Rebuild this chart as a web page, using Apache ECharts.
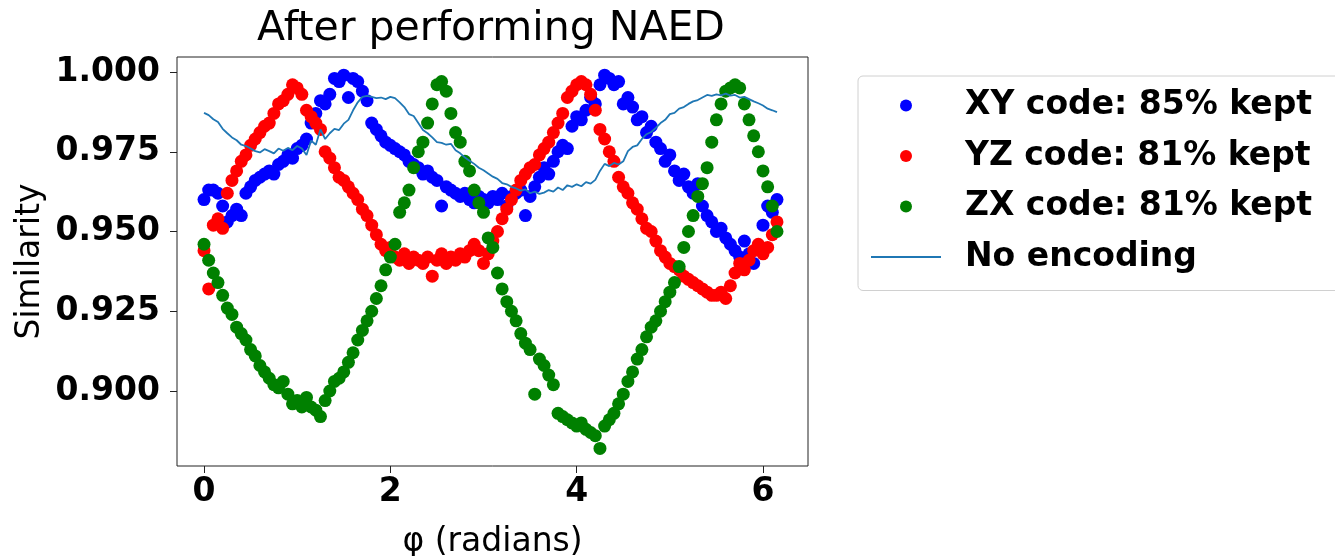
<!DOCTYPE html>
<html><head><meta charset="utf-8">
<script src="https://cdn.jsdelivr.net/npm/echarts@6/dist/echarts.min.js"></script>
<style>html,body{margin:0;padding:0;background:#fff}#c{width:1335px;height:556px}</style>
</head><body><div id="c"></div>
<script>
// sample angles (radians)
const phi = [
0.00,0.05,0.10,0.15,0.20,0.25,0.30,0.35,0.40,0.45,
0.50,0.55,0.60,0.65,0.70,0.75,0.80,0.85,0.90,0.95,
1.00,1.05,1.10,1.15,1.20,1.25,1.30,1.35,1.40,1.45,
1.50,1.55,1.60,1.65,1.70,1.75,1.80,1.85,1.90,1.95,
2.00,2.05,2.10,2.15,2.20,2.25,2.30,2.35,2.40,2.45,
2.50,2.55,2.60,2.65,2.70,2.75,2.80,2.85,2.90,2.95,
3.00,3.05,3.10,3.15,3.20,3.25,3.30,3.35,3.40,3.45,
3.50,3.55,3.60,3.65,3.70,3.75,3.80,3.85,3.90,3.95,
4.00,4.05,4.10,4.15,4.20,4.25,4.30,4.35,4.40,4.45,
4.50,4.55,4.60,4.65,4.70,4.75,4.80,4.85,4.90,4.95,
5.00,5.05,5.10,5.15,5.20,5.25,5.30,5.35,5.40,5.45,
5.50,5.55,5.60,5.65,5.70,5.75,5.80,5.85,5.90,5.95,
6.00,6.05,6.10,6.15];

const xyCode = [
0.960,0.963,0.963,0.962,0.958,0.953,0.955,0.957,0.955,0.962,
0.964,0.966,0.967,0.968,0.969,0.968,0.971,0.972,0.974,0.973,
0.976,0.977,0.979,0.984,0.987,0.991,0.990,0.993,0.998,0.997,
0.999,0.992,0.998,0.997,0.994,0.991,0.984,0.982,0.980,0.978,
0.977,0.976,0.975,0.974,0.972,0.971,0.970,0.968,0.969,0.967,
0.966,0.958,0.964,0.963,0.962,0.961,0.962,0.960,0.959,0.961,
0.960,0.959,0.961,0.960,0.962,0.958,0.961,0.962,0.963,0.955,
0.961,0.964,0.967,0.970,0.968,0.972,0.975,0.977,0.976,0.983,
0.986,0.985,0.988,0.992,0.990,0.996,0.999,0.998,0.996,0.997,
0.990,0.992,0.989,0.985,0.986,0.981,0.983,0.978,0.976,0.972,
0.974,0.969,0.966,0.968,0.964,0.962,0.965,0.958,0.955,0.953,
0.950,0.951,0.948,0.946,0.944,0.942,0.947,0.943,0.940,0.945,
0.952,0.958,0.956,0.960];

const yzCode = [
0.944,0.932,0.952,0.954,0.951,0.962,0.966,0.969,0.972,0.974,
0.977,0.979,0.981,0.983,0.984,0.987,0.990,0.991,0.993,0.996,
0.995,0.993,0.988,0.986,0.984,0.982,0.975,0.973,0.970,0.967,
0.966,0.964,0.962,0.960,0.957,0.955,0.952,0.949,0.946,0.944,
0.945,0.942,0.941,0.943,0.940,0.942,0.941,0.940,0.942,0.936,
0.941,0.943,0.940,0.942,0.941,0.943,0.942,0.944,0.946,0.944,
0.940,0.943,0.947,0.950,0.954,0.957,0.960,0.963,0.966,0.968,
0.970,0.971,0.974,0.976,0.978,0.981,0.984,0.987,0.992,0.994,
0.996,0.997,0.996,0.993,0.988,0.982,0.979,0.975,0.972,0.967,
0.964,0.962,0.959,0.957,0.954,0.951,0.950,0.947,0.944,0.942,
0.940,0.939,0.938,0.936,0.935,0.934,0.933,0.932,0.931,0.930,
0.930,0.931,0.929,0.933,0.937,0.940,0.938,0.941,0.944,0.946,
0.943,0.945,0.949,0.953];

const zxCode = [
0.946,0.941,0.937,0.934,0.930,0.926,0.924,0.920,0.918,0.916,
0.913,0.911,0.908,0.906,0.904,0.902,0.901,0.903,0.899,0.896,
0.897,0.895,0.898,0.895,0.894,0.892,0.897,0.900,0.903,0.904,
0.906,0.909,0.912,0.916,0.919,0.922,0.925,0.929,0.933,0.938,
0.942,0.946,0.956,0.959,0.963,0.970,0.975,0.978,0.984,0.990,
0.996,0.997,0.994,0.987,0.981,0.978,0.972,0.969,0.963,0.959,
0.956,0.948,0.945,0.937,0.932,0.928,0.925,0.922,0.918,0.915,
0.913,0.899,0.910,0.908,0.905,0.902,0.893,0.892,0.891,0.890,
0.889,0.890,0.888,0.887,0.886,0.882,0.889,0.891,0.893,0.896,
0.899,0.903,0.906,0.910,0.913,0.917,0.920,0.922,0.925,0.928,
0.931,0.934,0.939,0.945,0.950,0.955,0.961,0.965,0.970,0.978,
0.985,0.990,0.994,0.995,0.996,0.995,0.990,0.985,0.980,0.975,
0.969,0.964,0.958,0.950];

const noEncoding = [
0.9872,0.9865,0.9852,0.9843,0.9822,0.9808,0.9795,0.9786,0.9772,0.9768,
0.9760,0.9752,0.9748,0.9758,0.9752,0.9745,0.9760,0.9753,0.9762,0.9755,
0.9768,0.9760,0.9740,0.9785,0.9772,0.9820,0.9790,0.9808,0.9822,0.9818,
0.9838,0.9850,0.9880,0.9905,0.9922,0.9925,0.9922,0.9918,0.9920,0.9915,
0.9922,0.9918,0.9905,0.9890,0.9868,0.9862,0.9840,0.9818,0.9808,0.9795,
0.9780,0.9778,0.9772,0.9775,0.9755,0.9745,0.9732,0.9722,0.9712,0.9700,
0.9692,0.9682,0.9672,0.9665,0.9652,0.9648,0.9640,0.9635,0.9628,0.9632,
0.9620,0.9625,0.9618,0.9622,0.9630,0.9625,0.9638,0.9630,0.9645,0.9640,
0.9648,0.9642,0.9655,0.9650,0.9662,0.9690,0.9712,0.9705,0.9715,0.9710,
0.9720,0.9752,0.9765,0.9770,0.9790,0.9805,0.9812,0.9825,0.9840,0.9850,
0.9868,0.9872,0.9885,0.9890,0.9900,0.9908,0.9912,0.9920,0.9928,0.9925,
0.9930,0.9927,0.9932,0.9926,0.9928,0.9920,0.9922,0.9915,0.9908,0.9902,
0.9895,0.9885,0.9880,0.9874];

const xTicks = [0, 2, 4, 6];
const yTicks = [0.900, 0.925, 0.950, 0.975, 1.000];
const names = ['XY code: 85% kept', 'YZ code: 81% kept', 'ZX code: 81% kept', 'No encoding'];
const colors = ['#0000ff', '#ff0000', '#008000', '#1f77b4'];

const pairs = ys => phi.map((x, i) => [x, ys[i]]);
const FONT = "'DejaVu Sans', sans-serif";

const chart = echarts.init(document.getElementById('c'), null, {renderer: 'canvas'});
chart.setOption({
  animation: false,
  backgroundColor: '#fff',
  title: {
    text: 'After performing NAED',
    left: 491, top: 9, textAlign: 'center', padding: 0,
    textStyle: {fontFamily: FONT, fontSize: 41, fontWeight: 'normal', color: '#000'}
  },
  legend: {
    orient: 'vertical', left: 858, top: 76,
    padding: [13, 40, 17, 12],
    itemWidth: 70, itemHeight: 12, itemGap: 17.5,
    borderColor: '#d0d0d0', borderWidth: 1, borderRadius: 5,
    backgroundColor: '#fff',
    data: [names[0], names[1], names[2], {name: names[3], itemStyle: {opacity: 0}}],
    textStyle: {fontFamily: FONT, fontSize: 33, fontWeight: 'bold', color: '#000', padding: [0, 0, 0, 19]}
  },
  grid: {left: 177, right: 527, top: 57, bottom: 90, outerBoundsMode: 'none', containLabel: false,
    show: true, borderColor: '#222', borderWidth: 1, backgroundColor: 'transparent'},
  xAxis: {
    type: 'value', min: -0.29, max: 6.483,
    name: 'φ (radians)', nameLocation: 'middle', nameGap: 60,
    nameTextStyle: {fontFamily: FONT, fontSize: 33, color: '#000'},
    axisLine: {show: false, onZero: false},
    axisTick: {show: true, length: 7, customValues: xTicks, lineStyle: {color: '#222'}},
    axisLabel: {customValues: xTicks, margin: 10, fontFamily: FONT, fontSize: 33, fontWeight: 'bold', color: '#000'},
    splitLine: {show: false}
  },
  yAxis: {
    type: 'value', min: 0.8765, max: 1.0047,
    name: 'Similarity', nameLocation: 'middle', nameGap: 130,
    nameTextStyle: {fontFamily: FONT, fontSize: 33, color: '#000'},
    axisLine: {show: false, onZero: false},
    axisTick: {show: true, length: 7, customValues: yTicks, lineStyle: {color: '#222'}},
    axisLabel: {customValues: yTicks, margin: 17, fontFamily: FONT, fontSize: 33, fontWeight: 'bold', color: '#000',
      formatter: v => Number(v).toFixed(3)},
    splitLine: {show: false}
  },
  series: [
    {name: names[0], type: 'scatter', data: pairs(xyCode), symbol: 'circle', symbolSize: 13, itemStyle: {color: colors[0], opacity: 1}},
    {name: names[1], type: 'scatter', data: pairs(yzCode), symbol: 'circle', symbolSize: 13, itemStyle: {color: colors[1], opacity: 1}},
    {name: names[2], type: 'scatter', data: pairs(zxCode), symbol: 'circle', symbolSize: 13, itemStyle: {color: colors[2], opacity: 1}},
    {name: names[3], type: 'line', data: pairs(noEncoding), symbol: 'none', showSymbol: false,
      lineStyle: {color: colors[3], width: 1.8}, itemStyle: {color: colors[3]}}
  ]
});
</script>
</body></html>
